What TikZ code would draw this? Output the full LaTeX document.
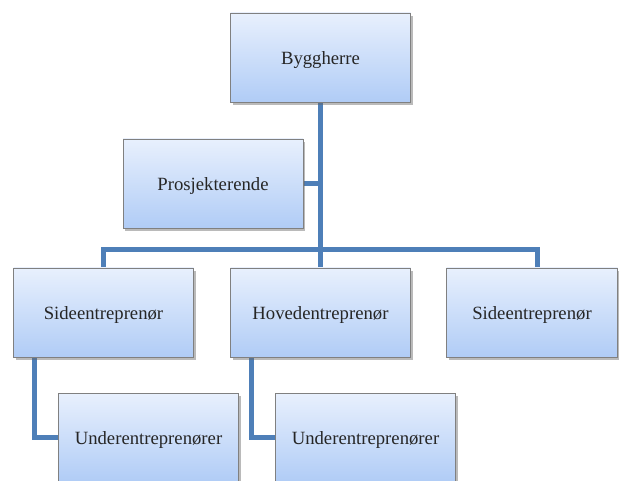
\documentclass[tikz,border=0pt]{standalone}
\usepackage{fontspec}
\setmainfont{Liberation Serif}
\usetikzlibrary{shadows,backgrounds}
\definecolor{boxtop}{RGB}{232,240,253}
\definecolor{boxbot}{RGB}{176,204,246}
\definecolor{boxline}{RGB}{128,128,128}
\definecolor{conncol}{RGB}{78,127,184}
\tikzset{
  orgbox/.style={draw=boxline, line width=0.9pt, top color=boxtop, bottom color=boxbot,
    minimum width=180pt, minimum height=89pt, inner sep=0pt,
    text height=15pt, text depth=0.5pt,
    font=\fontsize{18.7}{21}\selectfont, text=black!85,
    drop shadow={opacity=0.45, shadow xshift=2pt, shadow yshift=-3pt, fill=black!60}},
  conn/.style={draw=conncol, line width=5pt, line join=miter}
}
\begin{document}
\begin{tikzpicture}[x=1pt,y=-1pt]
\useasboundingbox (0,0) rectangle (619,481);
\clip (0,0) rectangle (619,481);
\node[orgbox] (B)  at (320.5,57.5) {Byggherre};
\node[orgbox] (P)  at (213,183.5) {Prosjekterende};
\node[orgbox] (S1) at (103.5,312.5) {Sideentreprenør};
\node[orgbox] (H)  at (320.5,312.5) {Hovedentreprenør};
\node[orgbox, minimum width=171pt] (S2) at (532,312.5) {Sideentreprenør};
\node[orgbox] (U1) at (148.5,437.5) {Underentreprenører};
\node[orgbox] (U2) at (365.5,437.5) {Underentreprenører};
\coordinate (j) at (320.5,250);
\begin{scope}[on background layer]
\draw[conn] (B.south) -- (H.north);
\draw[conn] (P.east) -- (P.east -| B.south);
\draw[conn] (S1.north) |- (j) -| ([xshift=5pt]S2.north);
\draw[conn] ([xshift=21pt]S1.south west) |- (U1.west);
\draw[conn] ([xshift=21pt]H.south west) |- (U2.west);
\end{scope}
\end{tikzpicture}
\end{document}
